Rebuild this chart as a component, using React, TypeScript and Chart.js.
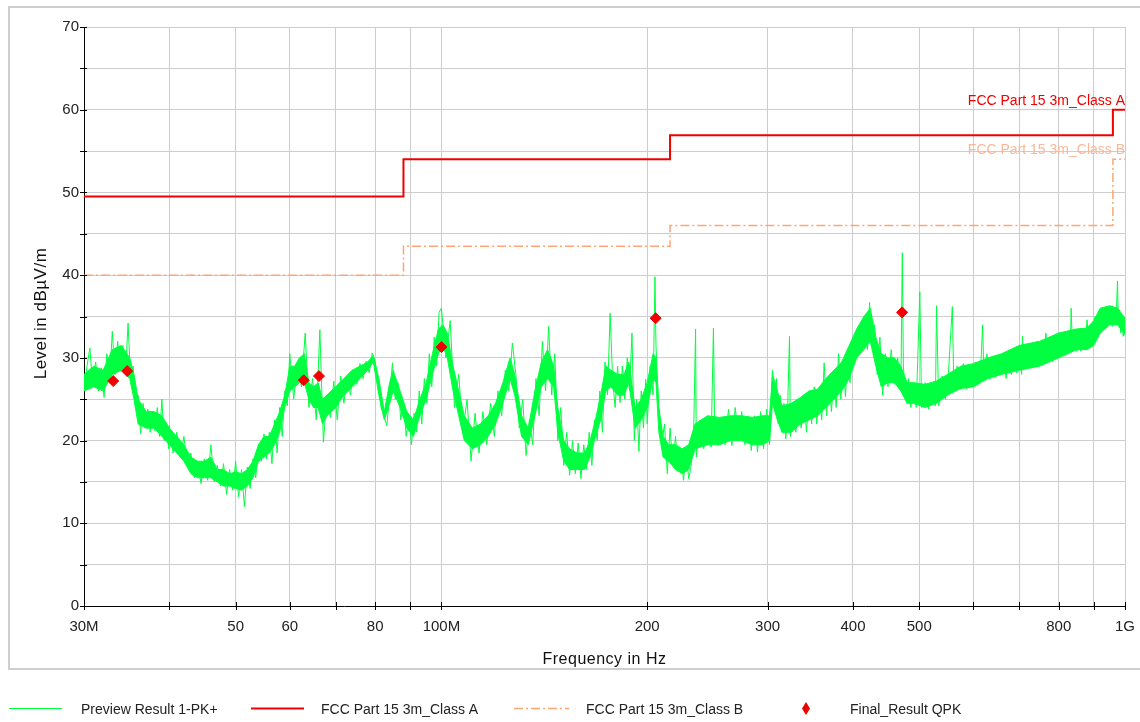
import React, { useEffect, useRef } from 'react';
import { Chart, registerables } from 'chart.js';

Chart.register(...registerables);

const FONT = '"Liberation Sans", Arial, Helvetica, sans-serif';

// Axis ticks (MHz) and their labels
const xTickValues = [30, 40, 50, 60, 70, 80, 90, 100, 200, 300, 400, 500, 600, 700, 800, 900, 1000];
const xTickLabels = ['30M', '', '50', '60', '', '80', '', '100M', '200', '300', '400', '500', '', '', '800', '', '1G'];
const yMin = 0;
const yMax = 70;
const yGridStep = 5;
const yLabelStep = 10;

const xTitle = 'Frequency in Hz';
const yTitle = 'Level in dBµV/m';

// Preview Result 1-PK+ : noisy trace (frequency in MHz, level in dBµV/m)
const previewFreq = [
  30.0, 30.3, 30.6, 30.9, 31.2, 31.5, 31.8, 32.1, 32.4, 32.7, 33.0, 33.3, 33.6, 33.9, 34.2, 34.5, 34.8,
  35.1, 35.4, 35.7, 36.0, 36.3, 36.6, 36.9, 37.2, 37.5, 37.8, 38.1, 38.4, 38.7, 39.0, 39.3, 39.6, 39.9,
  40.0, 40.5, 41.0, 41.5, 42.0, 42.5, 43.0, 43.5, 44.0, 44.5, 45.0, 45.5, 46.0, 46.5, 47.0, 47.5, 48.0,
  48.5, 49.0, 49.5, 50.0, 50.5, 51.0, 51.5, 52.0, 52.5, 53.0, 53.5, 54.0, 54.5, 55.0, 55.5, 56.0, 56.5,
  57.0, 57.5, 58.0, 58.5, 59.0, 59.5,
  60.0, 60.8, 61.6, 62.4, 63.2, 64.0, 64.8, 65.6, 66.4, 67.2, 68.0, 68.8, 69.6, 70.4, 71.2, 72.0, 72.8,
  73.6, 74.4, 75.2, 76.0, 76.8, 77.6, 78.4, 79.2, 80.0, 80.8, 81.6, 82.4, 83.2, 84.0, 84.8, 85.6, 86.4,
  87.2, 88.0, 88.8, 89.6, 90.4, 91.2, 92.0, 92.8, 93.6, 94.4, 95.2, 96.0, 96.8, 97.6, 98.4, 99.2,
  100, 101.5, 103, 104.5, 106, 107.5, 109, 110.5, 112, 113.5, 115, 116.5, 118, 119.5, 121, 122.5, 124,
  125.5, 127, 128.5, 130, 131.5, 133, 134.5, 136, 137.5, 139, 140.5, 142, 143.5, 145, 146.5, 148, 149.5,
  151, 152.5, 154, 155.5, 157, 158.5, 160, 161.5, 163, 164.5, 166, 167.5, 169, 170.5, 172, 173.5, 175,
  176.5, 178, 179.5, 181, 182.5, 184, 185.5, 187, 188.5, 190, 191.5, 193, 194.5, 196, 197.5, 199,
  200, 202, 204, 205.3, 206, 208, 210, 212, 214, 216, 218, 220, 222, 224, 226, 228, 230, 232, 234,
  235.4, 236, 239, 242, 245, 248, 250, 251, 254, 257, 260, 263, 266, 269, 272, 275, 278, 281, 284, 287,
  290, 293, 296, 299, 302, 305, 307, 309, 311, 313, 315, 317, 319, 321, 323, 324, 327, 330, 333, 336,
  339, 342, 345, 348, 351, 354, 357, 360, 363, 366, 369, 372, 375, 378, 381, 384, 387, 390, 393, 396, 399,
  400, 405, 410, 415, 420, 423, 426, 430, 434, 438, 442, 446, 450, 455, 460, 465, 470, 472.3, 474, 478,
  482, 486, 490, 495, 501, 504, 510, 516, 522, 528, 530, 534, 540, 546, 552, 559, 562, 568, 574, 580,
  586, 592, 598, 604, 610, 616, 619, 622, 628, 634, 640, 646, 652, 658, 664, 670, 676, 682, 688, 694,
  700, 706, 708, 712, 718, 724, 730, 736, 742, 748, 754, 760, 766, 772, 778, 784, 790, 796, 802, 808,
  814, 820, 826, 832, 834, 838, 844, 850, 856, 862, 868, 874, 880, 886, 892, 898, 904, 910, 916, 922,
  928, 934, 940, 946, 952, 958, 964, 970, 975, 978, 982, 986, 990, 994, 1000,
];
const previewLevel = [
  26.0, 29.0, 31.2, 26.5, 29.5, 26.0, 28.8, 25.2, 30.5, 27.0, 33.2, 28.0, 32.0, 28.5, 31.5, 28.0, 34.2,
  27.5, 29.0, 24.0, 25.5, 20.8, 24.5, 21.5, 23.8, 21.0, 23.0, 21.2, 24.0, 20.5, 25.0, 20.0, 22.0, 19.0,
  21.8, 18.5, 21.0, 18.0, 20.5, 17.0, 18.5, 15.5, 17.5, 14.8, 17.8, 15.2, 19.5, 15.0, 17.0, 14.5, 17.2,
  13.5, 16.5, 14.0, 17.5, 13.2, 16.5, 12.0, 16.8, 14.2, 17.8, 15.5, 19.5, 17.5, 20.8, 17.8, 21.0, 17.2,
  22.5, 18.5, 24.0, 20.5, 26.0, 24.2,
  30.5, 25.0, 29.5, 26.5, 33.0, 24.0, 27.5, 22.5, 33.4, 19.8, 25.5, 22.8, 27.2, 22.5, 27.8, 24.5, 27.8,
  25.5, 28.5, 26.8, 29.3, 27.5, 29.6, 28.2, 30.6, 29.5, 27.0, 24.0, 23.0, 21.8, 25.5, 29.4, 25.0, 27.0,
  22.5, 24.8, 20.5, 23.0, 19.5, 23.3, 21.0, 26.0, 22.0, 27.5, 24.5, 30.5, 26.5, 32.5, 29.0, 35.5,
  36.0, 30.0, 34.5, 24.0, 28.0, 21.0, 25.0, 17.5, 23.3, 18.5, 23.5, 19.5, 24.5, 20.5, 26.0, 23.0, 28.5,
  26.0, 31.8, 28.0, 21.5, 25.0, 18.2, 22.5, 19.5, 27.5, 23.0, 32.0, 26.0, 33.8, 25.5, 30.5, 20.0, 24.0,
  17.0, 21.0, 15.8, 20.0, 16.0, 19.7, 15.4, 19.5, 16.5, 21.0, 17.0, 22.5, 20.0, 26.0, 21.0, 29.5, 25.5,
  35.4, 27.5, 24.0, 29.0, 24.6, 29.0, 25.0, 30.0, 26.0, 33.0, 20.0, 25.0, 18.7, 26.0, 21.5, 27.4,
  22.0, 29.0, 25.5, 39.8, 31.5, 23.5, 19.5, 22.0, 16.0, 21.5, 17.0, 20.5, 16.5, 19.0, 15.2, 18.5, 15.4, 17.0, 22.0,
  33.5, 18.0, 22.5, 19.0, 22.8, 19.2, 33.6, 21.5, 19.4, 22.2, 19.5, 23.8, 19.4, 24.0, 20.5, 23.5, 19.5, 23.0, 18.8, 23.0,
  18.6, 23.5, 19.0, 23.8, 19.5, 28.5, 25.0, 27.5, 22.0, 25.5, 21.0, 24.5, 20.2, 24.0, 32.6, 20.5, 24.5, 21.0, 25.0, 21.5,
  25.5, 21.0, 26.0, 22.0, 26.5, 22.0, 26.0, 22.5, 29.4, 23.0, 27.5, 23.5, 28.0, 24.0, 30.5, 25.0, 29.5, 25.3, 30.6, 27.0, 32.0,
  29.0, 33.5, 30.5, 35.0, 31.0, 36.7, 31.5, 34.0, 28.0, 32.5, 25.5, 30.5, 26.5, 31.0, 26.8, 30.0, 26.0, 42.7, 29.0, 24.8,
  27.5, 24.0, 27.0, 24.0, 38.0, 24.0, 27.0, 23.8, 26.8, 24.2, 36.3, 24.2, 27.8, 25.0, 28.5, 36.2, 26.0, 29.0, 26.2, 29.3,
  26.2, 29.0, 26.5, 29.5, 26.8, 30.0, 34.0, 27.3, 30.5, 27.4, 30.0, 27.6, 30.2, 28.0, 30.0, 27.5, 30.5, 28.0, 31.0, 28.2,
  31.0, 28.0, 32.6, 29.0, 31.5, 28.8, 31.8, 29.0, 32.0, 29.2, 31.9, 29.5, 33.0, 29.5, 32.0, 29.5, 32.2, 30.0, 32.5, 30.5,
  33.0, 30.8, 33.2, 31.0, 36.0, 31.0, 33.5, 30.8, 33.2, 30.8, 33.0, 31.0, 34.6, 31.2, 33.5, 31.5, 35.0, 32.5, 35.4, 33.0,
  36.0, 33.5, 36.2, 34.0, 36.0, 33.8, 36.0, 34.0, 39.3, 34.0, 35.8, 33.0, 35.0, 32.6, 34.0,
];

// Preview Result 1-PK+ : dense core of the trace (lower / upper edge)
const bandFreq = [
  30, 31, 32, 33, 34, 35, 35.5, 36, 37, 38, 39, 40, 41, 42, 43, 44, 45, 46, 47, 48, 49, 50, 51, 52, 53,
  54, 55, 56, 57, 58, 59, 60, 61, 62, 63, 64, 65, 66, 67, 68, 70, 72, 74, 76, 78, 79.5, 81, 82.5, 84,
  85, 87, 89, 91, 93, 95, 97, 99, 100.5, 102, 104, 106, 108, 111, 114, 117, 120, 123, 126, 128, 131,
  134, 137, 140, 143, 146, 148, 151, 154, 158, 162, 165, 168, 171, 174, 177, 181, 185, 188, 192, 196,
  200, 204, 206, 208, 211, 215, 220, 225, 230, 235, 245, 255, 265, 275, 285, 295, 302, 305, 310, 315,
  325, 335, 345, 355, 365, 375, 385, 395, 405, 415, 424, 432, 440, 450, 460, 470, 480, 490, 510, 530,
  550, 575, 600, 630, 660, 700, 750, 800, 850, 880, 900, 920, 950, 975, 1000,
];
const bandLow = [
  26, 26.5, 26, 28, 28.5, 27.5, 25, 22, 21.5, 21.5, 20.5, 19.5, 18.5, 17.5, 16, 15.5, 15.5, 15.5, 15, 14.5, 14.5, 14.2, 14, 14.5, 15.5,
  17.5, 18, 18.5, 19.5, 21, 24, 26, 26.5, 27, 27, 25, 24, 24, 22, 23, 24, 25.5, 26.5, 27.5, 28.5, 29.5, 25.5, 22.5, 24.5,
  26, 24, 21.5, 20.5, 23, 25, 28, 30.5, 31.5, 30, 26, 23, 20, 19, 19.5, 20.5, 22, 24.5, 27.5, 25.5, 20.5,
  19.5, 23, 26.5, 27.5, 26.5, 21, 17.5, 16.5, 16.5, 16.5, 18, 20.5, 22.5, 26, 26.5, 25.5, 25.5, 27, 21.5, 22.5,
  24, 27.5, 27, 21, 18, 17.5, 16.5, 16, 16.5, 19, 19.5, 19.5, 20, 20, 19.5, 19.5, 20, 24.5, 22.5, 21,
  21, 22, 22.5, 23, 24, 25, 26, 27.5, 30, 31, 32, 29, 26.5, 27, 27, 26, 24.5, 24.5, 24, 24.5,
  25.5, 26.3, 26.5, 27.5, 28, 28.5, 29, 30, 31, 31, 31.5, 33, 34, 34, 32.8,
];
const bandHigh = [
  28, 29, 28.5, 31, 31.5, 30, 28, 25, 23.5, 23.5, 23, 21.5, 20.5, 19.5, 18, 17.5, 17.5, 18, 16.5, 16.5, 16, 16.2, 16, 16.5, 17.5,
  19.5, 20.5, 20.5, 22, 23.5, 25.5, 29, 29, 30, 30.5, 27, 26.5, 27, 25, 25.5, 26.5, 27.5, 28.5, 29, 29.5, 30.3, 27.5, 23.5, 27,
  28.5, 26, 23.5, 22.5, 25, 27, 30.5, 33.5, 34, 33, 29, 26, 23, 21.5, 22, 23, 24.5, 27, 30, 28, 23,
  21.5, 26, 29.5, 31, 29, 24, 20, 19, 18.5, 18.5, 20, 22.5, 25.5, 29, 28.5, 28, 28, 29.5, 24, 25,
  27, 30.5, 30, 24, 20.5, 19.5, 19.5, 19, 19.5, 22, 23, 22.8, 23, 23, 22.8, 23, 23, 28, 26, 24.2,
  24.5, 25.2, 26, 26.2, 27.5, 28.5, 29.5, 31.5, 33.5, 35, 36, 32.5, 30.5, 30, 30, 29, 27, 27, 26.8, 27.2,
  28, 29, 29.3, 30, 30.5, 31.5, 32, 33, 33.5, 33.6, 34.5, 36, 36.3, 36, 34.8,
];

// Limit lines (break frequencies in MHz, levels in dBµV/m)
const classAFreq = [30, 88, 216, 960, 1000];
const classALevel = [49.5, 54, 56.9, 60, 60];
const classBFreq = [30, 88, 216, 960, 1000];
const classBLevel = [40, 43.5, 46, 54, 54];

// Final_Result QPK
const qpkFreq = [33.1, 34.7, 62.9, 66.2, 100.0, 205.8, 472.0];
const qpkLevel = [27.2, 28.4, 27.3, 27.8, 31.3, 34.8, 35.5];

const seriesNames = ['Preview Result 1-PK+', 'FCC Part 15 3m_Class A', 'FCC Part 15 3m_Class B', 'Final_Result QPK'];

const GREEN = '#00ff40';
const RED = '#f00000';
const ORANGE = '#ffa574';
const ORANGE_TEXT = '#f8b898';
const CLASS_B_DASH = [9, 3, 2, 3];

const zip = (xs: number[], ys: number[]) => xs.map((x, i) => ({ x, y: ys[i] }));
// closed outline: upper edge left-to-right, then lower edge right-to-left
const bandOutline = () => [
  ...zip(bandFreq, bandHigh),
  ...zip(bandFreq, bandLow).reverse(),
];

const decorPlugin = {
  id: 'decor',
  beforeDraw(chart: any) {
    const ctx = chart.ctx;
    ctx.save();
    ctx.strokeStyle = '#cfcfcf';
    ctx.lineWidth = 2;
    ctx.strokeRect(9, 7, 1140, 662);
    ctx.restore();
  },
  afterDraw(chart: any) {
    const { ctx, chartArea } = chart;
    const xs = chart.scales.x;
    const ys = chart.scales.y;
    ctx.save();
    // tick marks
    ctx.strokeStyle = '#000';
    ctx.lineWidth = 1;
    for (const v of xTickValues) {
      const px = Math.round(xs.getPixelForValue(v)) + 0.5;
      ctx.beginPath();
      ctx.moveTo(px, chartArea.bottom - 4);
      ctx.lineTo(px, chartArea.bottom + 4);
      ctx.stroke();
    }
    for (let v = yMin; v <= yMax; v += yGridStep) {
      const py = Math.round(ys.getPixelForValue(v)) + 0.5;
      ctx.beginPath();
      ctx.moveTo(chartArea.left - 4, py);
      ctx.lineTo(chartArea.left + 3, py);
      ctx.stroke();
    }
    // axis titles
    ctx.fillStyle = '#111';
    ctx.textAlign = 'center';
    ctx.textBaseline = 'middle';
    (ctx as any).letterSpacing = '0.5px';
    ctx.font = `16px ${FONT}`;
    ctx.fillText(xTitle, (chartArea.left + chartArea.right) / 2, 660);
    ctx.save();
    ctx.font = `17px ${FONT}`;
    ctx.translate(41, (chartArea.top + chartArea.bottom) / 2 - 3);
    ctx.rotate(-Math.PI / 2);
    ctx.fillText(yTitle, 0, 0);
    ctx.restore();
    (ctx as any).letterSpacing = '0px';

    // limit line labels
    ctx.font = `14px ${FONT}`;
    ctx.textAlign = 'right';
    ctx.textBaseline = 'alphabetic';
    ctx.fillStyle = RED;
    ctx.fillText(seriesNames[1], chartArea.right, ys.getPixelForValue(classALevel[classALevel.length - 1]) - 5);
    ctx.fillStyle = ORANGE_TEXT;
    ctx.fillText(seriesNames[2], chartArea.right, ys.getPixelForValue(classBLevel[classBLevel.length - 1]) - 5);

    // legend
    const ly = 708.5;
    ctx.textAlign = 'left';
    ctx.textBaseline = 'middle';
    ctx.font = `14px ${FONT}`;
    ctx.strokeStyle = GREEN;
    ctx.lineWidth = 1;
    ctx.beginPath();
    ctx.moveTo(9, ly);
    ctx.lineTo(62, ly);
    ctx.stroke();
    ctx.fillStyle = '#222';
    ctx.fillText(seriesNames[0], 81, 710);
    ctx.strokeStyle = RED;
    ctx.lineWidth = 2;
    ctx.beginPath();
    ctx.moveTo(251, ly);
    ctx.lineTo(304, ly);
    ctx.stroke();
    ctx.fillText(seriesNames[1], 321, 710);
    ctx.strokeStyle = ORANGE;
    ctx.lineWidth = 1.5;
    ctx.setLineDash(CLASS_B_DASH);
    ctx.beginPath();
    ctx.moveTo(514, ly);
    ctx.lineTo(569, ly);
    ctx.stroke();
    ctx.setLineDash([]);
    ctx.fillText(seriesNames[2], 586, 710);
    ctx.fillStyle = RED;
    ctx.beginPath();
    ctx.moveTo(806, ly - 6.5);
    ctx.lineTo(810, ly);
    ctx.lineTo(806, ly + 6.5);
    ctx.lineTo(802, ly);
    ctx.closePath();
    ctx.fill();
    ctx.fillStyle = '#222';
    ctx.fillText(seriesNames[3], 850, 710);
    ctx.restore();
  },
};

export default function App() {
  const canvasRef = useRef<HTMLCanvasElement | null>(null);

  useEffect(() => {
    if (!canvasRef.current) return;
    const chart = new Chart(canvasRef.current, {
      type: 'line',
      data: {
        datasets: [
          {
            label: seriesNames[3],
            data: zip(qpkFreq, qpkLevel),
            showLine: false,
            pointStyle: 'rectRot',
            pointRadius: 5.5,
            pointBackgroundColor: RED,
            pointBorderColor: RED,
            pointBorderWidth: 1,
            borderColor: RED,
            backgroundColor: RED,
            order: 0,
          },
          {
            label: seriesNames[1],
            data: zip(classAFreq, classALevel),
            stepped: 'before',
            borderColor: RED,
            borderWidth: 2,
            pointRadius: 0,
            fill: false,
            order: 1,
          },
          {
            label: seriesNames[2],
            data: zip(classBFreq, classBLevel),
            stepped: 'before',
            borderColor: ORANGE,
            borderWidth: 1.5,
            borderDash: CLASS_B_DASH,
            pointRadius: 0,
            fill: false,
            order: 2,
          },
          {
            label: seriesNames[0],
            data: zip(previewFreq, previewLevel),
            borderColor: GREEN,
            borderWidth: 1,
            pointRadius: 0,
            tension: 0,
            fill: false,
            order: 3,
          },
          {
            label: seriesNames[0] + ' (core)',
            data: bandOutline(),
            borderColor: GREEN,
            backgroundColor: GREEN,
            borderWidth: 1,
            pointRadius: 0,
            tension: 0,
            fill: 'shape',
            order: 4,
          },
        ],
      },
      options: {
        responsive: false,
        animation: false,
        events: [],
        layout: { padding: { left: 30, right: 15, top: 27, bottom: 76 } },
        plugins: {
          legend: { display: false },
          tooltip: { enabled: false },
          title: { display: false },
        },
        scales: {
          x: {
            type: 'logarithmic',
            min: 30,
            max: 1000,
            afterBuildTicks: (scale: any) => {
              scale.ticks = xTickValues.map((v) => ({ value: v }));
            },
            afterFit: (scale: any) => {
              scale.height = 40;
              scale.paddingLeft = 0;
              scale.paddingRight = 0;
            },
            ticks: {
              autoSkip: false,
              maxRotation: 0,
              padding: 12,
              color: '#222',
              font: { family: FONT, size: 15 },
              callback: (value: any) => {
                const i = xTickValues.indexOf(Number(value));
                return i >= 0 ? xTickLabels[i] : '';
              },
            },
            grid: { color: '#cdcdcd', lineWidth: 1, drawTicks: false },
            border: { display: true, color: '#000', width: 1 },
          },
          y: {
            type: 'linear',
            min: yMin,
            max: yMax,
            afterFit: (scale: any) => {
              scale.width = 54;
            },
            ticks: {
              stepSize: yGridStep,
              autoSkip: false,
              padding: 5,
              color: '#222',
              font: { family: FONT, size: 15 },
              callback: (value: any) => (Number(value) % yLabelStep === 0 ? String(value) : ''),
            },
            grid: { color: '#cdcdcd', lineWidth: 1, drawTicks: false },
            border: { display: true, color: '#000', width: 1 },
          },
        },
      },
      plugins: [decorPlugin],
    } as any);
    return () => chart.destroy();
  }, []);

  return (
    <div style={{ position: 'fixed', left: 0, top: 0, width: 1140, height: 722, background: '#fff' }}>
      <canvas ref={canvasRef} width={1140} height={722} style={{ display: 'block' }} />
    </div>
  );
}
